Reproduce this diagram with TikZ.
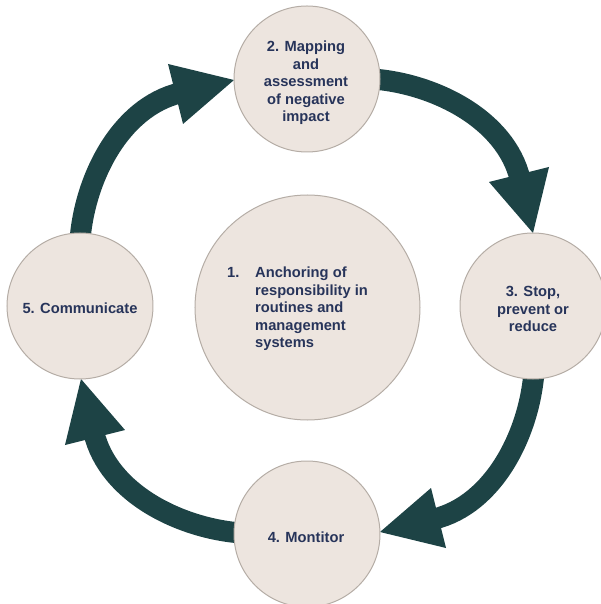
\documentclass[tikz,border=0pt]{standalone}
\usepackage{fontspec}
\setmainfont{Liberation Sans}
\definecolor{arrowc}{HTML}{1D4345}
\definecolor{circfill}{HTML}{EDE5DF}
\definecolor{circdraw}{HTML}{B5ADA6}
\definecolor{txt}{HTML}{27345A}
\tikzset{
  stage/.style={circle, fill=circfill, draw=circdraw, line width=1pt, minimum size=146pt, inner sep=0pt},
  stagetext/.style={font=\fontsize{14.7}{17.5}\selectfont\bfseries, text=txt, inner sep=0pt},
  shaft/.style={draw=arrowc, line width=21pt},
  headtip/.style={fill=arrowc}
}
\begin{document}
\begin{tikzpicture}[x=1pt,y=1pt]
\useasboundingbox (-307,-298) rectangle (293,306);
% arrows (four rotated copies)
\foreach \r/\n in {0/a,-90/b,-180/c,-270/d}{
  \begin{scope}[rotate=\r]
    \coordinate (s\n) at (66,227);
    \coordinate (e\n) at (213.2,126.6);
    \draw[shaft] (s\n) .. controls (126,222.4) and (198.5,187.9) .. (e\n);
    \fill[headtip] (182,124) -- (226,73) -- (242,139) -- cycle;
  \end{scope}
}
% circles
\node[stage] (c2) at (0,227) {};
\node[stage] (c3) at (226,0) {};
\node[stage] (c4) at (0,-228) {};
\node[stage] (c5) at (-227,0) {};
\node[stage, minimum size=225pt] (c1) at (0.5,-1.5) {};
% texts
\node[stagetext, anchor=base] (t2) at (-1,254) {\begin{tabular}[t]{@{}c@{}}2. Mapping\\ and\\ assessment\\ of negative\\ impact\end{tabular}};
\node[stagetext, anchor=base] (t3) at (226,9) {\begin{tabular}[t]{@{}c@{}}3. Stop,\\ prevent or\\ reduce\end{tabular}};
\node[stagetext, anchor=base] (t4) at (-1,-236) {4. Montitor};
\node[stagetext, anchor=base] (t5) at (-227,-8) {5. Communicate};
\node[stagetext, anchor=base west] (t1) at (-80,28) {\begin{tabular}[t]{@{}l@{}l@{}}\makebox[28pt][l]{1.} & Anchoring of\\ & responsibility in\\ & routines and\\ & management\\ & systems\end{tabular}};
\end{tikzpicture}
\end{document}
